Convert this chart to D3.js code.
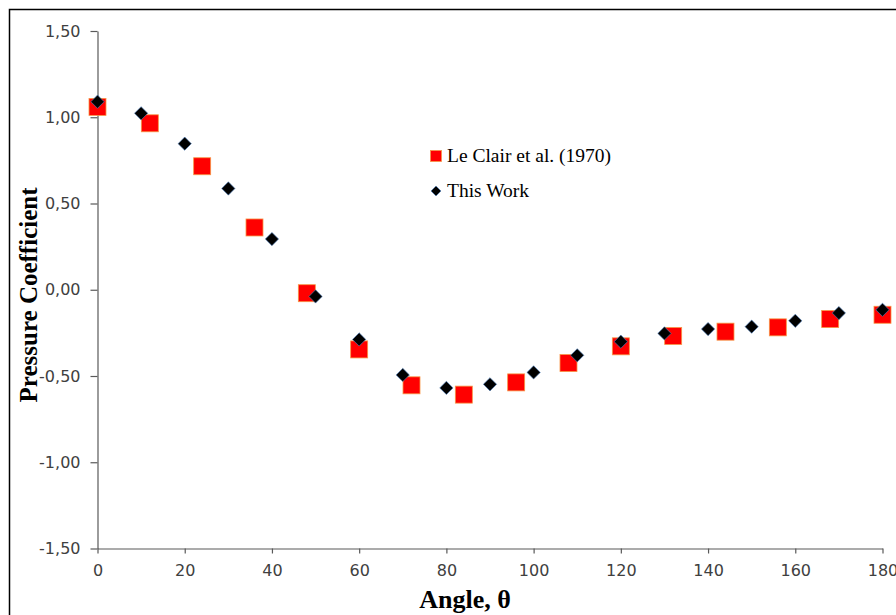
<!DOCTYPE html>
<html>
<head>
<meta charset="utf-8">
<script src="https://cdn.jsdelivr.net/npm/d3@7"></script>
<style>
  body { margin: 0; background: #fff; }
  svg { display: block; }
</style>
</head>
<body>
<div id="root"></div>
<script>
// Le Clair et al. (1970)
const leClairAngle = [0, 12, 24, 36, 48, 60, 72, 84, 96, 108, 120, 132, 144, 156, 168, 180];
const leClairCp = [1.06, 0.965, 0.716, 0.361, -0.02, -0.346, -0.554, -0.608, -0.537, -0.425, -0.328, -0.268, -0.243, -0.218, -0.17, -0.145];

// This Work
const workAngle = [0, 10, 20, 30, 40, 50, 60, 70, 80, 90, 100, 110, 120, 130, 140, 150, 160, 170, 180];
const workCp = [1.09, 1.023, 0.847, 0.587, 0.294, -0.039, -0.288, -0.494, -0.569, -0.548, -0.479, -0.38, -0.301, -0.253, -0.228, -0.214, -0.18, -0.135, -0.116];

const xTicks = [0, 20, 40, 60, 80, 100, 120, 140, 160, 180];
const yTicks = [-1.5, -1.0, -0.5, 0, 0.5, 1.0, 1.5];

const width = 896;
const height = 615;

var svg = d3.select("#root").append("svg")
  .attr("width", width)
  .attr("height", height);

// outer chart border
svg.append("rect")
  .attr("x", 9.5)
  .attr("y", 9.5)
  .attr("width", 900)
  .attr("height", 620)
  .attr("fill", "none")
  .attr("stroke", "#000")
  .attr("stroke-width", 1.5);

var xScale = d3.scaleLinear().domain([0, 180]).range([97.5, 882.5]);
var yScale = d3.scaleLinear().domain([-1.5, 1.5]).range([548.5, 31]);

var fmt = d => d3.format(".2f")(d).replace(".", ",").replace("−", "-");

var xAxis = svg.append("g")
  .attr("transform", "translate(0," + yScale(-1.5) + ")")
  .call(d3.axisBottom(xScale).tickValues(xTicks).tickSize(5).tickSizeOuter(0).tickPadding(11));

var yAxis = svg.append("g")
  .attr("transform", "translate(" + xScale(0) + ",0)")
  .call(d3.axisLeft(yScale).tickValues(yTicks).tickFormat(fmt).tickSize(7).tickSizeOuter(0).tickPadding(10));

[xAxis, yAxis].forEach(ax => {
  ax.selectAll("path, line").attr("stroke", "#595959").attr("stroke-width", 1.2);
  ax.selectAll("text")
    .attr("fill", "#404040")
    .style("font-family", "'DejaVu Sans', sans-serif")
    .style("font-size", "16px");
});

// series: squares first, diamonds on top
var leClair = leClairAngle.map((a, i) => ({ a: a, v: leClairCp[i] }));
var work = workAngle.map((a, i) => ({ a: a, v: workCp[i] }));

svg.append("g").selectAll("rect")
  .data(leClair)
  .enter().append("rect")
  .attr("x", d => xScale(d.a) - 8.5)
  .attr("y", d => yScale(d.v) - 8.5)
  .attr("width", 17)
  .attr("height", 17)
  .attr("fill", "#ff0000")
  .attr("stroke", "#f79646")
  .attr("stroke-width", 0.8);

var diamond = d3.symbol().type(d3.symbolSquare).size(88);

svg.append("g").selectAll("path")
  .data(work)
  .enter().append("path")
  .attr("d", diamond)
  .attr("transform", d => "translate(" + xScale(d.a) + "," + yScale(d.v) + ") rotate(45)")
  .attr("fill", "#000")
  .attr("stroke", "#4f81bd")
  .attr("stroke-width", 0.6);

// legend
var legend = svg.append("g");
legend.append("rect")
  .attr("x", 430.5).attr("y", 150.5)
  .attr("width", 11).attr("height", 11)
  .attr("fill", "#ff0000").attr("stroke", "#f79646").attr("stroke-width", 0.8);
legend.append("path")
  .attr("d", d3.symbol().type(d3.symbolSquare).size(50))
  .attr("transform", "translate(436,191) rotate(45)")
  .attr("fill", "#000").attr("stroke", "#4f81bd").attr("stroke-width", 0.6);
legend.selectAll("text")
  .data(["Le Clair et al. (1970)", "This Work"])
  .enter().append("text")
  .attr("x", 447)
  .attr("y", (d, i) => 162 + i * 35)
  .attr("fill", "#000")
  .style("font-family", "'Liberation Serif', 'Times New Roman', serif")
  .style("font-size", "19.5px")
  .text(d => d);

// axis titles
svg.append("text")
  .attr("x", 465)
  .attr("y", 608)
  .attr("text-anchor", "middle")
  .style("font-family", "'Liberation Serif', 'Times New Roman', serif")
  .style("font-weight", "bold")
  .style("font-size", "26px")
  .text("Angle, θ");

svg.append("text")
  .attr("transform", "translate(37,295) rotate(-90)")
  .attr("text-anchor", "middle")
  .style("font-family", "'Liberation Serif', 'Times New Roman', serif")
  .style("font-weight", "bold")
  .style("font-size", "25px")
  .text("Pressure Coefficient");
</script>
</body>
</html>
